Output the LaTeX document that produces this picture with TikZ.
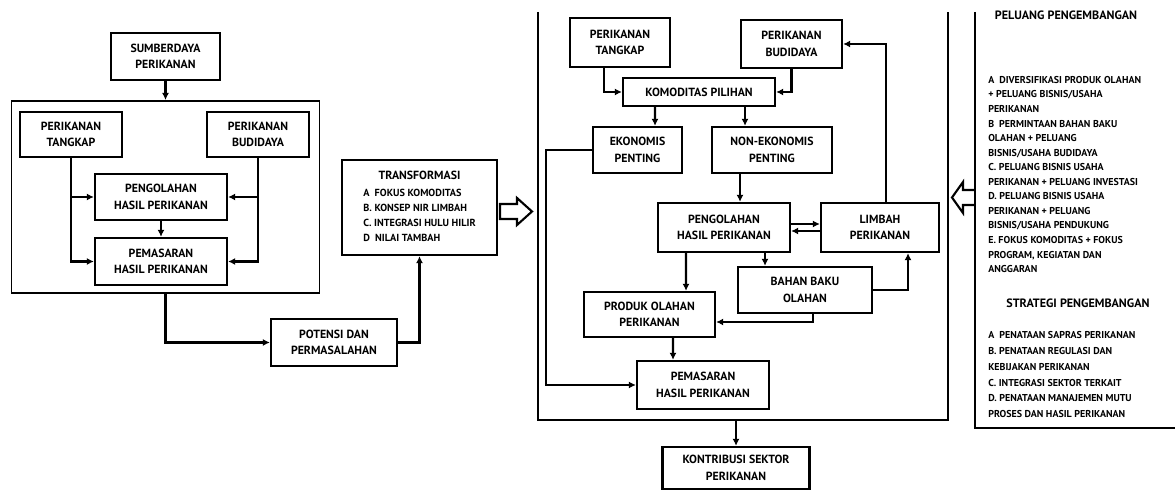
\documentclass[tikz,border=0pt]{standalone}
\usepackage{fontspec}
\setmainfont{PT Sans}
\usetikzlibrary{arrows.meta, calc}

\tikzset{
  box/.style={draw, line width=1.6pt, align=center, inner sep=1pt,
    font=\bfseries\fontsize{8.4}{11.8}\selectfont},
  sz/.style 2 args={minimum width=#1*0.025cm, minimum height=#2*0.025cm},
  grp/.style={draw, line width=1.4pt},
  wire/.style={->, line width=1.6pt},
  daftar/.style={anchor=north west, inner sep=0pt, align=left},
  judul/.style={inner sep=0pt, font=\bfseries\fontsize{8.6}{10}\selectfont},
}

\begin{document}
\begin{tikzpicture}[x=0.025cm, y=-0.025cm, >={Latex[length=5pt,width=5pt]}]
    \useasboundingbox (0,0) rectangle (1175,490);

    % Bagian kiri
    \node[box, sz={109}{47}] (sumber) at (165.5,56.5) {SUMBERDAYA\\PERIKANAN};
    \node[grp, sz={308}{192}] (grpL) at (165.5,197) {};
    \node[box, sz={102}{45}] (tangkapL) at (71,134.5) {PERIKANAN\\TANGKAP};
    \node[box, sz={102}{45}] (budidayaL) at (258,134.5) {PERIKANAN\\BUDIDAYA};
    \node[box, sz={132}{46}] (olahL) at (161,197) {PENGOLAHAN\\HASIL PERIKANAN};
    \node[box, sz={132}{47}] (pasarL) at (161,261.5) {PEMASARAN\\HASIL PERIKANAN};
    \node[box, sz={126}{47}] (potensi) at (334,342.5) {POTENSI DAN\\PERMASALAHAN};
    \node[box, sz={155}{95}] (transformasi) at (419.5,207.5) {%
      \fontsize{7.3}{10.8}\selectfont
      \begin{tabular}{@{}l@{}}
        \multicolumn{1}{@{}c@{}}{\fontsize{8.4}{10}\selectfont TRANSFORMASI}\\[1pt]
        A\enspace FOKUS KOMODITAS\\
        B. KONSEP NIR LIMBAH\\
        C. INTEGRASI HULU HILIR\\
        D\enspace NILAI TAMBAH
      \end{tabular}};

    % Bagian tengah
    \draw[line width=1.4pt] (538,12) -- (538,420) -- (948,420) -- (948,12);
    \coordinate (grpMbawah) at (736,420);
    \node[box, sz={100}{49}] (tangkapM) at (620,42.5) {PERIKANAN\\TANGKAP};
    \node[box, sz={101}{48}] (budidayaM) at (791.5,44) {PERIKANAN\\BUDIDAYA};
    \node[box, sz={152}{28}] (komoditas) at (699,92) {KOMODITAS PILIHAN};
    \node[box, sz={89}{46}] (ekonomis) at (637.5,150) {EKONOMIS\\PENTING};
    \node[box, sz={120}{46}] (nonekonomis) at (772,150) {NON-EKONOMIS\\PENTING};
    \node[box, sz={132}{49}] (olahM) at (724,227.5) {PENGOLAHAN\\HASIL PERIKANAN};
    \node[box, sz={118}{49}] (limbah) at (880,227.5) {LIMBAH\\PERIKANAN};
    \node[box, sz={134}{46}] (bahanbaku) at (805,290) {BAHAN BAKU\\OLAHAN};
    \node[box, sz={131}{45}] (produk) at (649.5,314.5) {PRODUK OLAHAN\\PERIKANAN};
    \node[box, sz={132}{48}] (pasarM) at (703,385) {PEMASARAN\\HASIL PERIKANAN};
    \node[box, sz={147}{42}] (kontribusi) at (736,468) {KONTRIBUSI SEKTOR\\PERIKANAN};

    % Bagian kanan
    \draw[line width=1.4pt] (975,12) -- (975,428) -- (1175,428);
    \node[judul] (peluangJudul) at (1066,15) {PELUANG PENGEMBANGAN};
    \node[daftar, font=\bfseries\fontsize{7.1}{10.35}\selectfont] (peluang) at (988,76) {%
      A\enspace DIVERSIFIKASI PRODUK OLAHAN\\
      + PELUANG BISNIS/USAHA\\
      PERIKANAN\\
      B\enspace PERMINTAAN BAHAN BAKU\\
      OLAHAN + PELUANG\\
      BISNIS/USAHA BUDIDAYA\\
      C. PELUANG BISNIS USAHA\\
      PERIKANAN + PELUANG INVESTASI\\
      D. PELUANG BISNIS USAHA\\
      PERIKANAN + PELUANG\\
      BISNIS/USAHA PENDUKUNG\\
      E. FOKUS KOMODITAS + FOKUS\\
      PROGRAM, KEGIATAN DAN\\
      ANGGARAN};
    \node[judul] (strategiJudul) at (1078,303) {STRATEGI PENGEMBANGAN};
    \node[daftar, font=\bfseries\fontsize{7.1}{11.3}\selectfont] (strategi) at (988,331) {%
      A\enspace PENATAAN SAPRAS PERIKANAN\\
      B. PENATAAN REGULASI DAN\\
      KEBIJAKAN PERIKANAN\\
      C. INTEGRASI SEKTOR TERKAIT\\
      D. PENATAAN MANAJEMEN MUTU\\
      PROSES DAN HASIL PERIKANAN};

    % Panah blok
    \draw[line width=1.5pt] (500,204) -- (517,204) -- (517,198) -- (532,211.5)
      -- (517,225) -- (517,219) -- (500,219) -- cycle;
    \draw[line width=1.5pt] (975,190) -- (963,190) -- (963,182) -- (952,197.5)
      -- (963,213) -- (963,205) -- (975,205);

    % Panah kiri
    \draw[wire] (sumber.south) -- (grpL.north);
    \draw[wire] (tangkapL.south) |- (olahL.west);
    \draw[wire] (tangkapL.south) |- (pasarL.west);
    \draw[wire] (budidayaL.south) |- (olahL.east);
    \draw[wire] (budidayaL.south) |- (pasarL.east);
    \draw[wire] (olahL.south) -- (pasarL.north);
    \draw[wire] (grpL.south) |- (potensi.west);
    \draw[wire] (potensi.east) -| (transformasi.south);

    % Panah tengah
    \draw[wire] ($(tangkapM.south)+(-16,0)$) |- (komoditas.west);
    \draw[wire] (budidayaM.south) |- (komoditas.east);
    \draw[wire] ($(komoditas.south)+(-44,0)$) -- ($(ekonomis.north)+(17.5,0)$);
    \draw[wire] ($(komoditas.south)+(46,0)$) -- ($(nonekonomis.north)+(-27,0)$);
    \draw[wire] (ekonomis.west) -- ++(-46,0) |- (pasarM.west);
    \draw[wire] ($(nonekonomis.south)+(-32,0)$) -- ($(olahM.north)+(16,0)$);
    \draw[wire] ($(olahM.east)+(0,-3.5)$) -- ($(limbah.west)+(0,-3.5)$);
    \draw[wire] ($(limbah.west)+(0,3.5)$) -- ($(olahM.east)+(0,3.5)$);
    \draw[wire] ($(limbah.north)+(6,0)$) |- (budidayaM.east);
    \draw[wire] ($(olahM.south)+(41,0)$) -- ($(bahanbaku.north)+(-40,0)$);
    \draw[wire] (bahanbaku.east) -| ($(limbah.south)+(28,0)$);
    \draw[wire] ($(olahM.south)+(-38,0)$) -- ($(produk.north)+(36.5,0)$);
    \draw[wire] ($(bahanbaku.south)+(8,0)$) |- ($(produk.east)+(0,7.5)$);
    \draw[wire] ($(produk.south)+(23.5,0)$) -- ($(pasarM.north)+(-30,0)$);
    \draw[wire] (grpMbawah) -- (kontribusi.north);
\end{tikzpicture}
\end{document}
